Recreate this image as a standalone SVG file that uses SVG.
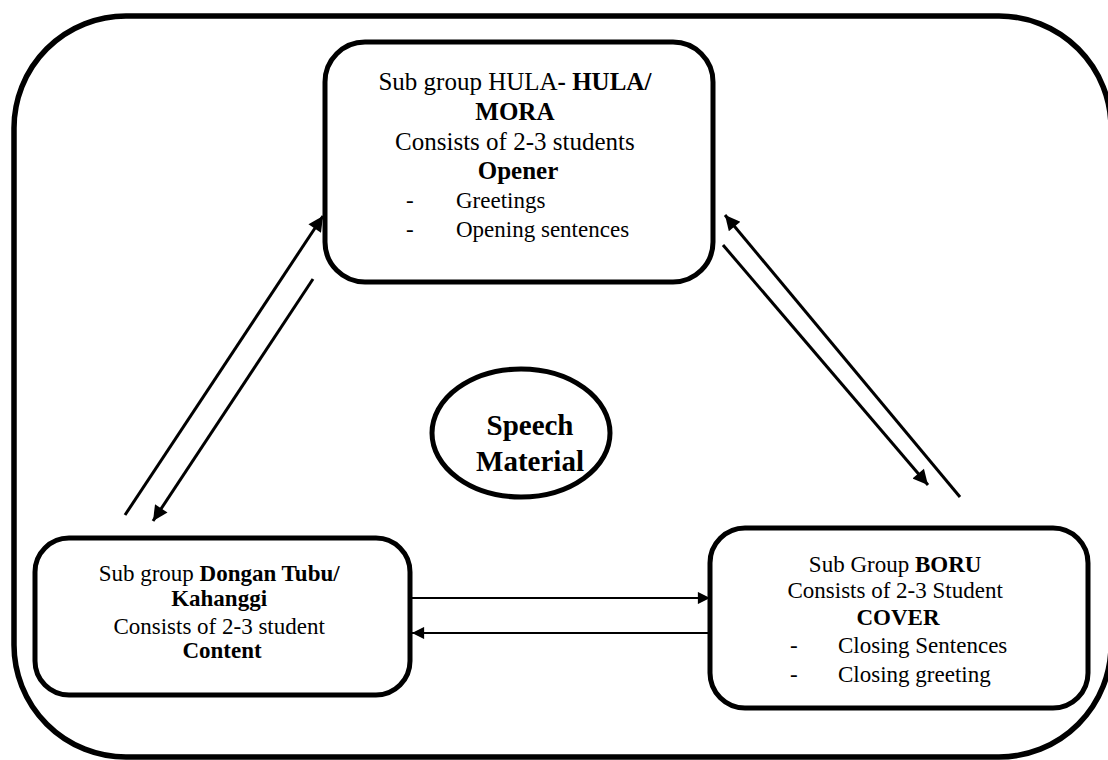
<svg xmlns="http://www.w3.org/2000/svg" width="1108" height="760" viewBox="0 0 1108 760">
<defs>
<style>
.box{fill:#fff;stroke:#000;stroke-width:5}
.frame{fill:none;stroke:#000;stroke-width:5.5}
.t{font-family:"Liberation Serif","Times New Roman",serif;fill:#000}
.b{font-weight:bold}
.diag{stroke:#000;stroke-width:3;fill:none}
.hz{stroke:#000;stroke-width:2.2;fill:none}
</style>
<marker id="ah" viewBox="0 0 10 10" refX="10" refY="5" markerWidth="5.5" markerHeight="5" orient="auto" markerUnits="strokeWidth">
<path d="M0,0 L10,5 L0,10 Z" fill="#000"/>
</marker>
<marker id="ahs" viewBox="0 0 10 10" refX="10" refY="5" markerWidth="6" markerHeight="5.5" orient="auto" markerUnits="strokeWidth">
<path d="M0,0 L10,5 L0,10 Z" fill="#000"/>
</marker>
</defs>
<rect width="1108" height="760" fill="#fff"/>
<rect id="frame" class="frame" x="14" y="16" width="1097" height="741" rx="112" ry="112"/>

<g id="connectors">
<line class="diag" x1="125" y1="515" x2="323" y2="216" marker-end="url(#ah)"/>
<line class="diag" x1="313" y1="279" x2="153" y2="521" marker-end="url(#ah)"/>
<line class="diag" x1="960" y1="497" x2="725" y2="215" marker-end="url(#ah)"/>
<line class="diag" x1="723" y1="245" x2="928" y2="485" marker-end="url(#ah)"/>
<line class="hz" x1="412" y1="598" x2="710" y2="598" marker-end="url(#ahs)"/>
<line class="hz" x1="710" y1="633" x2="412" y2="633" marker-end="url(#ahs)"/>
</g>

<g id="node-hula">
<rect class="box" x="325" y="42" width="388" height="240" rx="40" ry="40"/>
<text class="t" font-size="25" text-anchor="middle">
<tspan x="518" y="90">Sub group HULA<tspan class="b">- HULA/</tspan></tspan>
<tspan class="b" x="518" y="120">MORA</tspan>
<tspan x="518" y="150">Consists of 2-3 students</tspan>
<tspan class="b" x="518" y="179">Opener</tspan>
</text>
<text class="t" font-size="23"><tspan x="406" y="208">-</tspan><tspan x="456" y="208">Greetings</tspan><tspan x="406" y="237">-</tspan><tspan x="456" y="237">Opening sentences</tspan></text>
</g>

<g id="node-dongan">
<rect class="box" x="35" y="538" width="375" height="157" rx="34" ry="34"/>
<text class="t" font-size="23" text-anchor="middle">
<tspan x="222" y="581">Sub group <tspan class="b">Dongan Tubu/</tspan></tspan>
<tspan class="b" x="222" y="606">Kahanggi</tspan>
<tspan x="222" y="634">Consists of 2-3 student</tspan>
<tspan class="b" x="222" y="658">Content</tspan>
</text>
</g>

<g id="node-boru">
<rect class="box" x="710" y="528" width="378" height="180" rx="35" ry="35"/>
<text class="t" font-size="23" text-anchor="middle">
<tspan x="898" y="572">Sub Group <tspan class="b">BORU</tspan></tspan>
<tspan x="898" y="598">Consists of 2-3 Student</tspan>
<tspan class="b" x="898" y="625">COVER</tspan>
</text>
<text class="t" font-size="23"><tspan x="790" y="653">-</tspan><tspan x="838" y="653">Closing Sentences</tspan><tspan x="790" y="682">-</tspan><tspan x="838" y="682">Closing greeting</tspan></text>
</g>

<g id="node-speech">
<ellipse cx="521" cy="433" rx="89" ry="64" fill="#fff" stroke="#000" stroke-width="5"/>
<text class="t b" font-size="29" text-anchor="middle"><tspan x="530" y="435">Speech</tspan><tspan x="530" y="471">Material</tspan></text>
</g>
</svg>
